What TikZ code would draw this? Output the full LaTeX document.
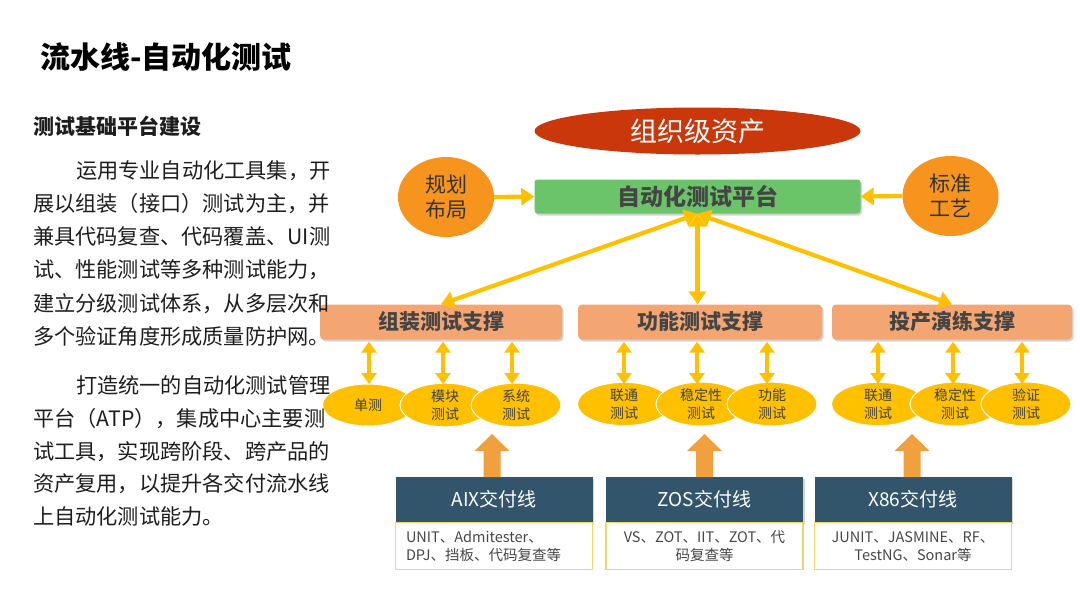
\documentclass[tikz,border=0pt]{standalone}
\usepackage{fontspec}
\setmainfont{Noto Sans CJK SC}
\usetikzlibrary{shapes.geometric,arrows.meta,shadows}
\definecolor{orgred}{HTML}{C9370A}
\definecolor{platgreen}{HTML}{6CC46A}
\definecolor{circorange}{HTML}{F7941D}
\definecolor{ayellow}{HTML}{FFC000}
\definecolor{supsalmon}{HTML}{F4A672}
\definecolor{darkslate}{HTML}{32556B}
\definecolor{blockorange}{HTML}{F0A03C}
\definecolor{boxborder}{HTML}{F3D66A}
\definecolor{txtgray}{HTML}{454545}
\definecolor{bodytxt}{HTML}{1E1E1E}
\tikzset{
  softshadow/.style={drop shadow={shadow xshift=1.5pt,shadow yshift=-2pt,opacity=0.28,fill=black!60}},
  titletxt/.style={anchor=west,inner sep=0pt,font=\bfseries\fontsize{30}{34}\selectfont,text=black},
  headtxt/.style={anchor=west,inner sep=0pt,font=\bfseries\fontsize{21}{24}\selectfont,text=bodytxt},
  paratxt/.style={anchor=west,inner sep=0pt,font=\fontsize{21.2}{24}\selectfont,text=bodytxt,text height=0.88em,text depth=0.12em},
  orgell/.style={ellipse,fill=orgred,minimum width=326pt,minimum height=47pt,inner sep=0pt,text=white,font=\fontsize{27}{30}\selectfont},
  platbox/.style={rectangle,rounded corners=3pt,fill=platgreen,minimum width=326pt,minimum height=34pt,inner sep=0pt,text=txtgray,font=\bfseries\fontsize{23}{26}\selectfont,softshadow},
  circnode/.style={ellipse,fill=circorange,minimum width=96pt,minimum height=80pt,inner sep=0pt,align=center,text=black!80,font=\fontsize{21}{25}\selectfont},
  supbox/.style={rectangle,rounded corners=4pt,fill=supsalmon,minimum height=35pt,inner sep=0pt,text=txtgray,font=\bfseries\fontsize{21}{24}\selectfont,softshadow},
  yell/.style={ellipse,fill=ayellow,draw=white,line width=1pt,minimum width=90pt,minimum height=42pt,inner sep=0pt,align=center,text=black!75,font=\fontsize{14}{18}\selectfont},
  darkbox/.style={rectangle,fill=darkslate,minimum width=197pt,minimum height=45pt,inner sep=0pt,text=white,font=\fontsize{19}{22}\selectfont},
  wbox/.style={rectangle,fill=white,draw=boxborder,line width=1.2pt,minimum width=197pt,minimum height=47pt,inner sep=0pt,text=black!72,font=\fontsize{14.5}{18}\selectfont},
  bigarr/.style={draw=ayellow,line width=4.2pt,-{Triangle[length=13pt,width=17pt]}},
  bigdbl/.style={draw=ayellow,line width=4.2pt,{Triangle[length=13pt,width=17pt]}-{Triangle[length=13pt,width=17pt]}},
  smalldbl/.style={draw=ayellow,line width=3.8pt,{Triangle[length=11pt,width=15pt]}-{Triangle[length=11pt,width=15pt]}}
}
\begin{document}
\begin{tikzpicture}[x=1pt,y=-1pt]
\useasboundingbox (0,0) rectangle (1080,603);
\fill[white] (0,0) rectangle (1080,603);

% top level
\node[orgell] (org) at (697.5,131) {组织级资产};
\node[platbox] (plat) at (697.5,196.5) {自动化测试平台};
\node[circnode] (plan) at (446,197) {规划\\布局};
\node[circnode] (std) at (950.5,196) {标准\\工艺};
\draw[bigarr] (plan.east) -- (plat.west);
\draw[bigarr] (std.west) -- (plat.east);

% support boxes
\node[supbox,minimum width=242pt] (s1) at (441,322) {组装测试支撑};
\node[supbox,minimum width=244pt] (s2) at (700,322) {功能测试支撑};
\node[supbox,minimum width=240pt] (s3) at (952,322) {投产演练支撑};
\draw[bigdbl] (plat.south) -- (s1.north);
\draw[bigdbl] (plat.south) -- (plat.south |- s2.north);
\draw[bigdbl] (plat.south) -- (s3.north);

% test ellipses
\node[yell,minimum width=91pt] (e11) at (368,405) {单测};
\node[yell] (e12) at (445,405) {模块\\测试};
\node[yell] (e13) at (516,405) {系统\\测试};
\node[yell,minimum width=93pt] (e21) at (624,404) {联通\\测试};
\node[yell] (e22) at (701,404) {稳定性\\测试};
\node[yell] (e23) at (772,404) {功能\\测试};
\node[yell,minimum width=93pt] (e31) at (878,404) {联通\\测试};
\node[yell] (e32) at (955,404) {稳定性\\测试};
\node[yell] (e33) at (1026,404) {验证\\测试};

\foreach \e/\s/\x in {e11/s1/369,e12/s1/443,e13/s1/512,e21/s2/624,e22/s2/697,e23/s2/767,e31/s3/878,e32/s3/953,e33/s3/1022}{
  \coordinate (\e top) at (\x,384);
  \draw[smalldbl,shorten <=2pt] (\e top |- \s.south) -- (\e top);
}

% delivery lines
\node[darkbox,softshadow] (d1) at (494,499.5) {AIX交付线};
\node[darkbox,softshadow] (d2) at (704.5,499.5) {ZOS交付线};
\node[darkbox,softshadow] (d3) at (913,499.5) {X86交付线};
\node[wbox,anchor=north,align=left,text width=176pt] (w1) at (d1.south) {UNIT、Admitester、\\DPJ、挡板、代码复查等};
\node[wbox,anchor=north,align=center] (w2) at (d2.south) {VS、ZOT、IIT、ZOT、代\\码复查等};
\node[wbox,anchor=north,align=center] (w3) at (d3.south) {JUNIT、JASMINE、RF、\\TestNG、Sonar等};

\foreach \x/\yb in {492/477,704.5/477,912/477}{
  \fill[blockorange] (\x-8.5,\yb) -- (\x-8.5,451) -- (\x-17.5,451) -- (\x,434) -- (\x+17.5,451) -- (\x+8.5,451) -- (\x+8.5,\yb) -- cycle;
}

% left column text
\node[titletxt] (title) at (40,57) {流水线-自动化测试};
\node[headtxt] (head) at (33,126) {测试基础平台建设};
\node[paratxt] (p11) at (76,175) {运用专业自动化工具集，开};
\node[paratxt] (p12) at (33,208) {展以组装（接口）测试为主，并};
\node[paratxt] (p13) at (33,241) {兼具代码复查、代码覆盖、UI测};
\node[paratxt] (p14) at (33,274) {试、性能测试等多种测试能力，};
\node[paratxt] (p15) at (33,308) {建立分级测试体系，从多层次和};
\node[paratxt] (p16) at (33,341) {多个验证角度形成质量防护网。};
\node[paratxt] (p21) at (76,390) {打造统一的自动化测试管理};
\node[paratxt] (p22) at (33,423) {平台（ATP），集成中心主要测};
\node[paratxt] (p23) at (33,456) {试工具，实现跨阶段、跨产品的};
\node[paratxt] (p24) at (33,488) {资产复用，以提升各交付流水线};
\node[paratxt] (p25) at (33,521) {上自动化测试能力。};
\end{tikzpicture}
\end{document}
